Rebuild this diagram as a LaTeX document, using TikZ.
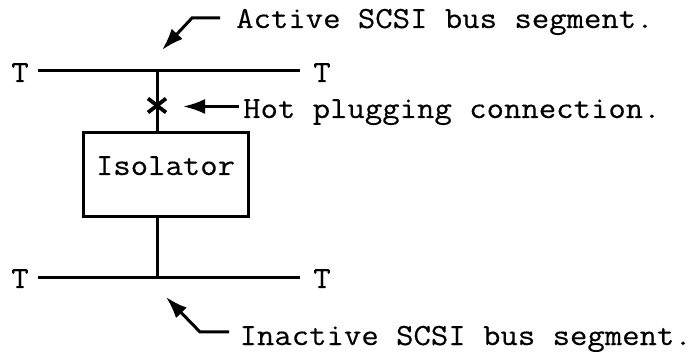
\documentclass[tikz,border=0pt]{standalone}
\usepackage{fontspec}
\setmainfont[FakeStretch=1.1,FakeBold=0.3]{Latin Modern Mono}
\usetikzlibrary{arrows.meta}
\begin{document}
\begin{tikzpicture}[x=1pt,y=-1pt,
  lbl/.style={inner sep=0pt,font=\fontsize{30.7}{34}\selectfont},
  wire/.style={line width=3pt},
  ptr/.style={line width=3pt,-{Latex[length=22pt,width=15pt]}},
  isobox/.style={draw,line width=3pt,minimum width=165pt,minimum height=84pt,inner sep=0pt}]
\useasboundingbox (0,0) rectangle (693,352);
% terminators
\node[lbl,anchor=base] (tl1) at (20,82) {T};
\node[lbl,anchor=base] (tr1) at (322,82) {T};
\node[lbl,anchor=base] (tl2) at (20,288) {T};
\node[lbl,anchor=base] (tr2) at (322,288) {T};
\coordinate (a1) at (38,71);
\coordinate (b1) at (300,71);
\coordinate (a2) at (38,278);
\coordinate (b2) at (300,278);
\coordinate (j1) at (157,71);
\coordinate (j2) at (157,278);
% buses
\draw[wire] (a1) -- (b1);
\draw[wire] (a2) -- (b2);
% isolator
\node[isobox] (iso) at (165.5,175) {};
\node[lbl,anchor=base] (isot) at (165.5,175) {Isolator};
\draw[wire] (j1) -- (j1 |- iso.north);
\draw[wire] (j2 |- iso.south) -- (j2);
% hot plug mark
\coordinate (hp) at (157,105.5);
\draw[line width=3.8pt] ([shift={(-9,-7)}]hp) -- ([shift={(9,7)}]hp);
\draw[line width=3.8pt] ([shift={(-9,7)}]hp) -- ([shift={(9,-7)}]hp);
% labels
\node[lbl,anchor=base west] (act) at (236,28) {Active SCSI bus segment.};
\node[lbl,anchor=base west] (hot) at (243,118) {Hot plugging connection.};
\node[lbl,anchor=base east] (inact) at (692,345) {Inactive SCSI bus segment.};
% pointers
\coordinate (actk) at (192,18);
\coordinate (actt) at (162,50);
\draw[ptr] (220,18) -- (actk) -- (actt);
\coordinate (hott) at (183,106.5);
\draw[ptr] (239,106.5) -- (hott);
\coordinate (ink) at (200,332);
\coordinate (intt) at (166,297);
\draw[ptr] (229,332) -- (ink) -- (intt);
\end{tikzpicture}
\end{document}
